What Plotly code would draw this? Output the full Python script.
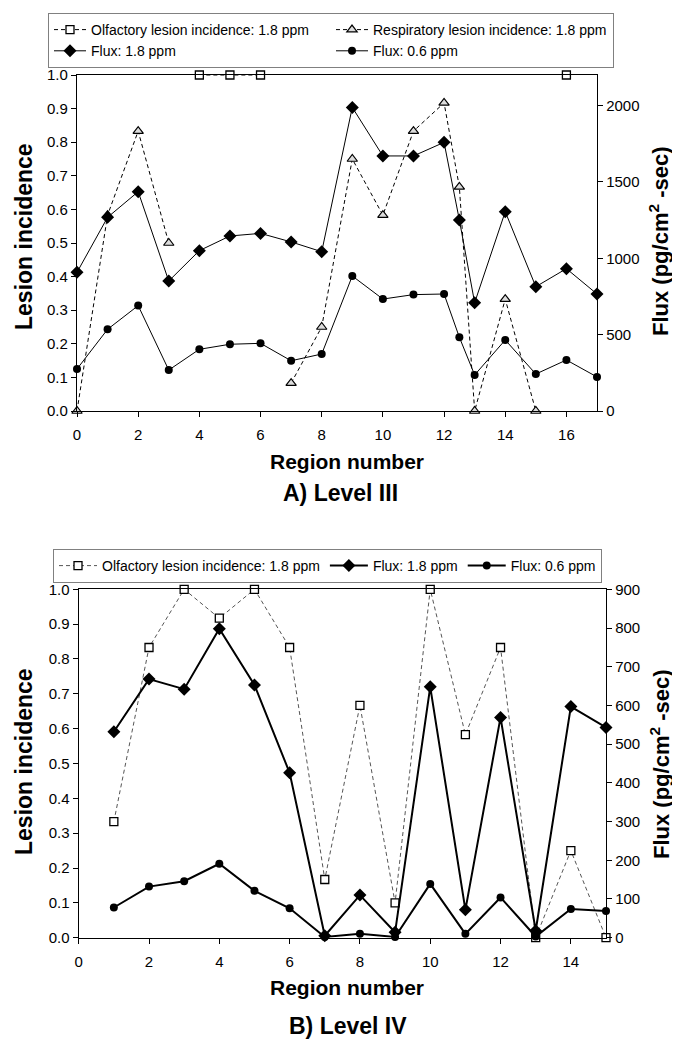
import plotly.graph_objects as go

# ---------------- data ----------------
# A) Level III
regions_a = [0, 1, 2, 3, 4, 5, 6, 7, 8, 9, 10, 11, 12, 12.5, 13, 14, 15, 16, 17]
olf_a = [None, None, None, None, 1.0, 1.0, 1.0, None, None, None, None, None, None, None, None, None, None, 1.0, None]
resp_a = [0.0, 0.583, 0.833, 0.5, None, None, None, 0.083, 0.25, 0.75, 0.583, 0.833, 0.917, 0.667, 0.0, 0.333, 0.0, None, None]
flux18_a = [908, 1268, 1436, 851, 1050, 1146, 1163, 1107, 1043, 1988, 1670, 1670, 1759, 1251, 709, 1305, 814, 932, 766]
flux06_a = [275, 535, 690, 268, 404, 437, 443, 329, 373, 884, 733, 762, 766, 483, 236, 465, 242, 334, 223]

# B) Level IV
regions_b = [1, 2, 3, 4, 5, 6, 7, 8, 9, 10, 11, 12, 13, 14, 15]
olf_b = [0.333, 0.833, 1.0, 0.917, 1.0, 0.833, 0.167, 0.667, 0.1, 1.0, 0.583, 0.833, 0.0, 0.25, 0.0]
flux18_b = [532, 668, 642, 798, 653, 426, 5, 110, 14, 648, 72, 569, 18, 597, 543]
flux06_b = [78, 132, 146, 191, 121, 76, 2, 10, 2, 139, 10, 104, 3, 74, 69]

names = ["Olfactory lesion incidence: 1.8 ppm", "Respiratory lesion incidence: 1.8 ppm",
         "Flux: 1.8 ppm", "Flux: 0.6 ppm"]
lesion_ticks = [0, 0.1, 0.2, 0.3, 0.4, 0.5, 0.6, 0.7, 0.8, 0.9, 1.0]

# page body has an 8px margin; the figure is sized to fit the 680x1039 window
OFF = 8
W, H = 680 - OFF, 1039 - OFF
FONT = "Liberation Sans, Arial, sans-serif"
DASH = "4px,3px"


def px(x):
    return (x - OFF) / W


def py(y):
    return 1 - (y - OFF) / H


fig = go.Figure()

# ---- top chart ----
fig.add_trace(go.Scatter(x=regions_a, y=olf_a, name=names[0], mode="lines+markers",
                         line=dict(color="black", width=1, dash=DASH),
                         marker=dict(symbol="square", size=8, color="white", line=dict(color="black", width=1.3)),
                         xaxis="x", yaxis="y", cliponaxis=False, legend="legend"))
fig.add_trace(go.Scatter(x=regions_a, y=resp_a, name=names[1], mode="lines+markers",
                         line=dict(color="black", width=1, dash=DASH),
                         marker=dict(symbol="triangle-up", size=9, color="#dcdcdc", line=dict(color="black", width=1.2)),
                         xaxis="x", yaxis="y", cliponaxis=False, legend="legend"))
fig.add_trace(go.Scatter(x=regions_a, y=flux18_a, name=names[2], mode="lines+markers",
                         line=dict(color="black", width=1),
                         marker=dict(symbol="diamond", size=10, color="black"),
                         xaxis="x", yaxis="y2", cliponaxis=False, legend="legend"))
fig.add_trace(go.Scatter(x=regions_a, y=flux06_a, name=names[3], mode="lines+markers",
                         line=dict(color="black", width=1),
                         marker=dict(symbol="circle", size=8, color="black"),
                         xaxis="x", yaxis="y2", cliponaxis=False, legend="legend"))

# ---- bottom chart ----
fig.add_trace(go.Scatter(x=regions_b, y=olf_b, name=names[0], mode="lines+markers",
                         line=dict(color="#555555", width=1, dash=DASH),
                         marker=dict(symbol="square", size=8, color="white", line=dict(color="black", width=1.3)),
                         xaxis="x2", yaxis="y3", cliponaxis=False, legend="legend2"))
fig.add_trace(go.Scatter(x=regions_b, y=flux18_b, name=names[2], mode="lines+markers",
                         line=dict(color="black", width=2),
                         marker=dict(symbol="diamond", size=10, color="black"),
                         xaxis="x2", yaxis="y4", cliponaxis=False, legend="legend2"))
fig.add_trace(go.Scatter(x=regions_b, y=flux06_b, name=names[3], mode="lines+markers",
                         line=dict(color="black", width=2),
                         marker=dict(symbol="circle", size=8, color="black"),
                         xaxis="x2", yaxis="y4", cliponaxis=False, legend="legend2"))

tickfont = dict(family=FONT, size=15, color="black")
common = dict(showline=True, linecolor="black", linewidth=1.3, ticks="outside", ticklen=5,
              tickcolor="black", tickwidth=1, showgrid=False, zeroline=False, tickfont=tickfont)

fig.update_layout(
    width=W, height=H, autosize=False,
    margin=dict(l=0, r=0, t=0, b=0, autoexpand=False),
    paper_bgcolor="white", plot_bgcolor="white",
    font=dict(family=FONT, color="black"),
    xaxis=dict(domain=[px(77), px(597)], range=[0, 17], tickmode="array",
               tickvals=[0, 2, 4, 6, 8, 10, 12, 14, 16], anchor="y", mirror=True,
               ticklabelstandoff=5, **common),
    yaxis=dict(domain=[py(411), py(75)], range=[0, 1.0], tickvals=lesion_ticks,
               tickformat=".1f", anchor="x", **common),
    yaxis2=dict(overlaying="y", side="right", anchor="x", range=[0, 2200],
                tickvals=[0, 500, 1000, 1500, 2000], **common),
    xaxis2=dict(domain=[px(78.7), px(606)], range=[0, 15], tickmode="array",
                tickvals=[0, 2, 4, 6, 8, 10, 12, 14], anchor="y3", mirror=True,
                ticklabelstandoff=5, **common),
    yaxis3=dict(domain=[py(937.7), py(589.3)], range=[0, 1.0], tickvals=lesion_ticks,
                tickformat=".1f", anchor="x2", **common),
    yaxis4=dict(overlaying="y3", side="right", anchor="x2", range=[0, 900],
                tickvals=[0, 100, 200, 300, 400, 500, 600, 700, 800, 900], **common),
    legend=dict(x=px(48), y=py(13), xanchor="left", yanchor="top", orientation="h",
                entrywidth=235, itemwidth=32, bordercolor="#808080", borderwidth=1, bgcolor="white",
                font=dict(family=FONT, size=14, color="black"), tracegroupgap=0),
    legend2=dict(x=px(53), y=py(549), xanchor="left", yanchor="top", orientation="h",
                 itemwidth=38, bordercolor="#808080", borderwidth=1, bgcolor="white",
                 font=dict(family=FONT, size=14, color="black")),
)


def ann(text, x, y, size, angle=0):
    fig.add_annotation(text=text, x=px(x), y=py(y), xref="paper", yref="paper",
                       showarrow=False, textangle=angle, xanchor="center", yanchor="middle",
                       font=dict(family=FONT, size=size, color="black"))


ann("<b>Lesion incidence</b>", 24, 237, 23, -90)
ann("<b>Lesion incidence</b>", 24, 762, 23, -90)
ann("<b>Flux (pg/cm<sup>2</sup> -sec)</b>", 659, 241, 22, -90)
ann("<b>Flux (pg/cm<sup>2</sup> -sec)</b>", 660, 764, 22, -90)
ann("<b>Region number</b>", 347, 461, 21)
ann("<b>Region number</b>", 347, 987, 21)
ann("<b>A) Level III</b>", 340, 493, 23)
ann("<b>B) Level IV</b>", 348, 1026, 23)

fig.write_html("out.html")
